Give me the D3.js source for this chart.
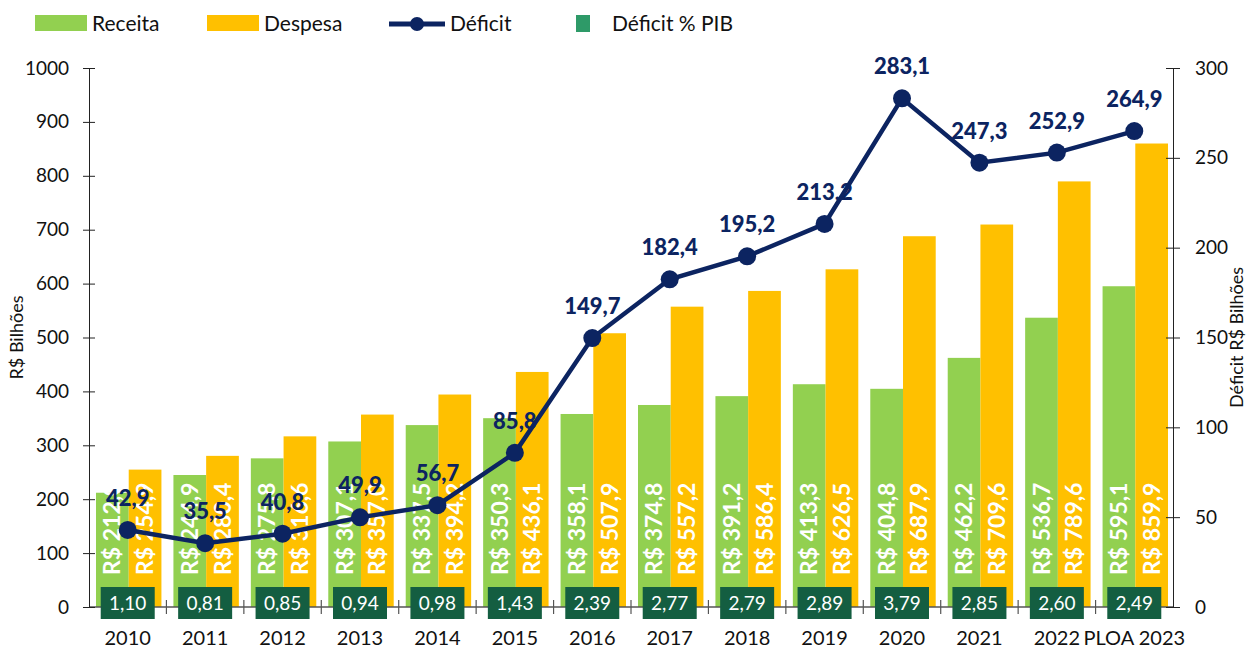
<!DOCTYPE html>
<html>
<head>
<meta charset="utf-8">
<script src="https://cdn.jsdelivr.net/npm/d3@7"></script>
<style>
  body { margin: 0; background: #fff; }
  svg text { font-family: Lato, "Open Sans", sans-serif; }
</style>
</head>
<body>
<div id="chart"></div>
<script>
// dados
var anos = ["2010","2011","2012","2013","2014","2015","2016","2017","2018","2019","2020","2021","2022","PLOA 2023"];
var receita = [212.0, 244.9, 275.8, 307.1, 337.5, 350.3, 358.1, 374.8, 391.2, 413.3, 404.8, 462.2, 536.7, 595.1];
var despesa = [254.9, 280.4, 316.6, 357.0, 394.2, 436.1, 507.9, 557.2, 586.4, 626.5, 687.9, 709.6, 789.6, 859.9];
var deficit = [42.9, 35.5, 40.8, 49.9, 56.7, 85.8, 149.7, 182.4, 195.2, 213.2, 283.1, 247.3, 252.9, 264.9];
var deficitPIB = ["1,10","0,81","0,85","0,94","0,98","1,43","2,39","2,77","2,79","2,89","3,79","2,85","2,60","2,49"];
var ticksEsq = [0,100,200,300,400,500,600,700,800,900,1000];
var ticksDir = [0,50,100,150,200,250,300];

var width = 1256, height = 648;
var margin = { top: 68, bottom: 41, left: 89, right: 83 };

var verde = "#92d050", laranja = "#ffc000", azul = "#0c2461", verdeEsc = "#145e41";

var svg = d3.select("#chart").append("svg")
  .attr("width", width).attr("height", height);

var x = d3.scaleBand().domain(anos)
  .range([margin.left, width - margin.right]).padding(0);
var xs = d3.scaleBand().domain(["Receita","Despesa"])
  .range([7, x.bandwidth() - 5]).padding(0);
var yL = d3.scaleLinear().domain([0, 1000]).range([height - margin.bottom, margin.top]);
var yR = d3.scaleLinear().domain([0, 300]).range([height - margin.bottom, margin.top]);

var fmt = function(v) { return v.toFixed(1).replace(".", ","); };

// barras
var series = [
  { nome: "Receita", vals: receita, cor: verde },
  { nome: "Despesa", vals: despesa, cor: laranja }
];
series.forEach(function(s) {
  var g = svg.append("g");
  g.selectAll("rect").data(s.vals).enter().append("rect")
    .attr("x", function(d, i) { return x(anos[i]) + xs(s.nome); })
    .attr("width", xs.bandwidth())
    .attr("y", function(d) { return yL(d); })
    .attr("height", function(d) { return yL(0) - yL(d); })
    .attr("fill", s.cor);
  g.selectAll("text").data(s.vals).enter().append("text")
    .attr("transform", function(d, i) {
      var cx = x(anos[i]) + xs(s.nome) + xs.bandwidth() / 2 + 8;
      return "translate(" + cx + "," + (yL(0) - 32) + ") rotate(-90)";
    })
    .attr("fill", "#fff")
    .attr("font-weight", "bold")
    .attr("font-size", "23px")
    .text(function(d) { return "R$ " + fmt(d); });
});

// eixo x
var axX = svg.append("g").attr("transform", "translate(0," + yL(0) + ")");
axX.append("line").attr("x1", margin.left).attr("x2", width - margin.right)
  .attr("stroke", "#555").attr("stroke-width", 1.3);
axX.selectAll("line.t").data(anos.slice(1)).enter().append("line")
  .attr("class", "t")
  .attr("x1", function(d) { return x(d); }).attr("x2", function(d) { return x(d); })
  .attr("y1", -7).attr("y2", 7)
  .attr("stroke", "#555").attr("stroke-width", 1.2);
axX.selectAll("text").data(anos).enter().append("text")
  .attr("x", function(d) { return x(d) + x.bandwidth() / 2; })
  .attr("y", 38)
  .attr("text-anchor", "middle")
  .attr("font-size", "20px")
  .attr("fill", "#111")
  .text(function(d) { return d; });

// eixo esquerdo
var axL = svg.append("g").attr("transform", "translate(" + margin.left + ",0)")
  .call(d3.axisLeft(yL).tickValues(ticksEsq).tickFormat(d3.format("d"))
    .tickSizeInner(6).tickSizeOuter(0).tickPadding(14));
axL.selectAll(".tick line").attr("x2", 6).attr("x1", -6);
axL.select(".domain").attr("stroke", "#222");
axL.selectAll(".tick line").attr("stroke", "#222");
axL.selectAll(".tick text").attr("font-size", "19px").attr("fill", "#111")
  .attr("font-family", "Lato, 'Open Sans', sans-serif");

svg.append("text")
  .attr("transform", "translate(23," + (margin.top + (yL(0) - margin.top) / 2) + ") rotate(-90)")
  .attr("text-anchor", "middle").attr("font-size", "18px").attr("fill", "#111")
  .text("R$ Bilhões");

// eixo direito
var axR = svg.append("g").attr("transform", "translate(" + (width - margin.right) + ",0)")
  .call(d3.axisRight(yR).tickValues(ticksDir).tickSizeInner(7).tickSizeOuter(0).tickPadding(15));
axR.selectAll(".tick line").attr("x1", -7).attr("x2", 7).attr("stroke", "#222");
axR.select(".domain").attr("stroke", "#222");
axR.selectAll(".tick text").attr("font-size", "19px").attr("fill", "#111")
  .attr("font-family", "Lato, 'Open Sans', sans-serif");

svg.append("text")
  .attr("transform", "translate(1243," + (margin.top + (yR(0) - margin.top) / 2) + ") rotate(-90)")
  .attr("text-anchor", "middle").attr("font-size", "18px").attr("fill", "#111")
  .text("Déficit R$ Bilhões");

// caixas % PIB
var gp = svg.append("g");
gp.selectAll("rect").data(deficitPIB).enter().append("rect")
  .attr("x", function(d, i) { return x(anos[i]) + x.bandwidth() / 2 - 27; })
  .attr("y", yL(0) - 20)
  .attr("width", 54).attr("height", 32)
  .attr("fill", verdeEsc);
gp.selectAll("text").data(deficitPIB).enter().append("text")
  .attr("x", function(d, i) { return x(anos[i]) + x.bandwidth() / 2; })
  .attr("y", yL(0) + 3)
  .attr("text-anchor", "middle")
  .attr("font-size", "19px").attr("fill", "#fff")
  .text(function(d) { return d; });

// linha déficit
var linha = d3.line()
  .x(function(d, i) { return x(anos[i]) + x.bandwidth() / 2; })
  .y(function(d) { return yR(d); });
svg.append("path").datum(deficit)
  .attr("fill", "none").attr("stroke", azul).attr("stroke-width", 4.5)
  .attr("d", linha);
svg.append("g").selectAll("circle").data(deficit).enter().append("circle")
  .attr("cx", function(d, i) { return x(anos[i]) + x.bandwidth() / 2; })
  .attr("cy", function(d) { return yR(d); })
  .attr("r", 9).attr("fill", azul);
svg.append("g").selectAll("text").data(deficit).enter().append("text")
  .attr("x", function(d, i) { return x(anos[i]) + x.bandwidth() / 2; })
  .attr("y", function(d) { return yR(d) - 24; })
  .attr("text-anchor", "middle")
  .attr("font-weight", "900").attr("font-size", "22px").attr("fill", azul)
  .text(function(d) { return fmt(d); });

// legenda
var leg = svg.append("g");
leg.append("rect").attr("x", 35).attr("y", 15).attr("width", 52).attr("height", 16).attr("fill", verde);
leg.append("text").attr("x", 92).attr("y", 31).attr("font-size", "21px").attr("fill", "#111").text("Receita");
leg.append("rect").attr("x", 207).attr("y", 15).attr("width", 52).attr("height", 16).attr("fill", laranja);
leg.append("text").attr("x", 264).attr("y", 31).attr("font-size", "21px").attr("fill", "#111").text("Despesa");
leg.append("line").attr("x1", 389).attr("x2", 445).attr("y1", 24).attr("y2", 24)
  .attr("stroke", azul).attr("stroke-width", 5);
leg.append("circle").attr("cx", 417).attr("cy", 24).attr("r", 7).attr("fill", azul);
leg.append("text").attr("x", 450).attr("y", 31).attr("font-size", "21px").attr("fill", "#111").text("Déficit");
leg.append("rect").attr("x", 576).attr("y", 15).attr("width", 14).attr("height", 17).attr("fill", "#2e9a68");
leg.append("text").attr("x", 612).attr("y", 31).attr("font-size", "21px").attr("fill", "#111").text("Déficit % PIB");
</script>
</body>
</html>
